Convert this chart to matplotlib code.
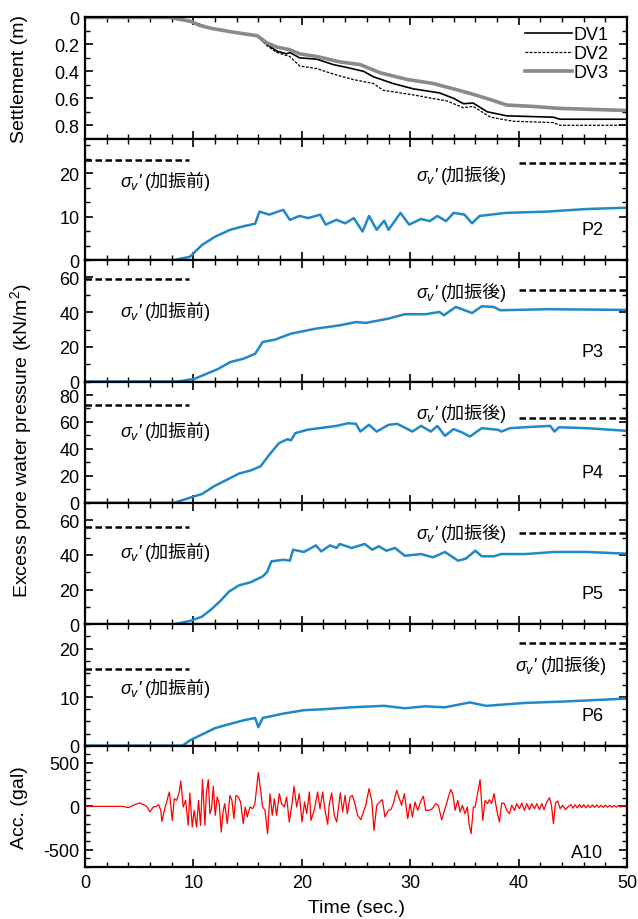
import numpy as np
import matplotlib.pyplot as plt
from matplotlib.ticker import MultipleLocator, AutoMinorLocator

plt.rcParams['font.family'] = ['Liberation Sans', 'Noto Sans CJK JP', 'DejaVu Sans']
plt.rcParams['mathtext.fontset'] = 'custom'
plt.rcParams['mathtext.rm'] = 'Liberation Sans'
plt.rcParams['mathtext.it'] = 'Liberation Sans:italic'
plt.rcParams.update({
    'font.size': 13,
    'axes.unicode_minus': False,
    'axes.linewidth': 1.6,
    'xtick.direction': 'in', 'ytick.direction': 'in',
    'xtick.top': True, 'ytick.right': True,
    'xtick.major.size': 6, 'ytick.major.size': 6,
    'xtick.minor.size': 3.5, 'ytick.minor.size': 3.5,
    'xtick.major.width': 1.2, 'ytick.major.width': 1.2,
    'xtick.minor.width': 1.0, 'ytick.minor.width': 1.0,
    'xtick.major.pad': 5, 'ytick.major.pad': 4,
})

# --- settlement (m) ---
t_dv1 = [0, 7.8, 9.8, 11.6, 13.7, 15.9, 16.8, 17.7, 18.6, 18.9, 19.8, 21.4, 22.9, 24.1,
         25.7, 26.6, 28.4, 30.3, 32.7, 34.0, 34.9, 35.8, 37.1, 38.9, 43.2, 43.8, 50]
dv1 = [0, 0, 0.03, 0.08, 0.11, 0.14, 0.2, 0.25, 0.27, 0.26, 0.30, 0.31, 0.35, 0.37,
       0.40, 0.44, 0.49, 0.53, 0.56, 0.60, 0.64, 0.635, 0.70, 0.73, 0.74, 0.755, 0.755]

t_dv2 = [0, 7.8, 9.8, 11.6, 13.7, 15.9, 16.8, 17.7, 18.9, 19.8, 21.4, 22.9, 24.7, 26.6,
         27.5, 30.3, 33.4, 34.9, 35.8, 37.4, 39.5, 43.2, 43.8, 50]
dv2 = [0, 0, 0.03, 0.08, 0.11, 0.14, 0.21, 0.26, 0.29, 0.36, 0.38, 0.42, 0.46, 0.49,
       0.54, 0.575, 0.62, 0.67, 0.66, 0.74, 0.77, 0.78, 0.80, 0.80]

t_dv3 = [0, 7.8, 9.8, 10.6, 11.6, 13.7, 15.9, 16.8, 17.7, 18.9, 19.8, 21.4, 23.5, 25.4,
         27.2, 29.7, 32.1, 34.0, 35.8, 37.4, 38.9, 41.3, 43.8, 50]
dv3 = [0, 0, 0.03, 0.06, 0.08, 0.11, 0.136, 0.19, 0.22, 0.24, 0.27, 0.29, 0.33, 0.35,
       0.41, 0.46, 0.49, 0.53, 0.57, 0.61, 0.65, 0.66, 0.675, 0.69]

# --- excess pore water pressure (kN/m2) ---
t_p2 = [0, 8.2, 9.7, 10.8, 12.0, 13.4, 14.6, 15.7, 16.1, 17.0, 17.8, 18.3, 18.9, 19.8,
        20.6, 21.7, 22.2, 23.2, 24.0, 24.8, 25.6, 26.2, 26.9, 27.6, 28.0, 29.1, 29.9,
        31.0, 31.8, 32.5, 33.3, 34.0, 35.0, 35.7, 36.4, 38.8, 42.6, 46.3, 50]
p2 = [0, 0, 0.8, 3.5, 5.4, 7.0, 7.8, 8.4, 11.2, 10.5, 11.2, 11.6, 9.3, 10.2,
      9.7, 10.5, 8.2, 9.3, 8.5, 9.7, 6.6, 10.2, 7.0, 9.1, 7.0, 10.9, 8.2,
      9.5, 9.0, 10.2, 9.0, 10.9, 10.5, 8.5, 10.2, 10.9, 11.2, 11.8, 12.1]

t_p3 = [0, 8.5, 10.1, 11.2, 12.3, 13.4, 14.6, 15.7, 16.4, 17.5, 19.0, 21.3, 23.5, 25.0,
        25.9, 28.0, 29.5, 31.4, 32.7, 33.1, 34.2, 35.7, 36.6, 37.7, 38.3, 42.6, 50]
p3 = [0, 0, 1.5, 4.4, 7.3, 11.2, 13.1, 16.0, 22.8, 24.1, 27.6, 30.5, 32.4, 34.3,
      33.8, 36.3, 38.8, 38.8, 40.1, 38.2, 43.0, 39.5, 43.4, 43.0, 41.1, 41.7, 41.3]

t_p4 = [0, 8.2, 10.1, 10.8, 11.9, 13.1, 14.2, 15.3, 16.2, 17.0, 17.9, 18.7, 19.0, 19.4,
        20.5, 21.6, 23.2, 24.3, 25.0, 25.4, 26.2, 26.9, 28.0, 28.8, 30.2, 31.0, 31.9,
        32.5, 33.2, 34.0, 34.8, 35.5, 36.6, 38.1, 38.4, 39.2, 40.6, 42.9, 43.3, 43.7,
        46.3, 50]
p4 = [0, 0, 4.9, 6.6, 12.3, 17.2, 21.7, 24.1, 27.1, 35.7, 44.3, 47.3, 46.3, 51.7,
      54.2, 55.4, 57.1, 59.1, 58.6, 52.9, 57.9, 52.9, 57.9, 58.6, 52.9, 57.1, 52.9,
      57.1, 49.7, 54.7, 52.2, 49.2, 55.4, 54.2, 52.9, 55.4, 56.1, 57.1, 52.9, 56.1,
      55.4, 53.4]

t_p5 = [0, 8.2, 9.7, 10.8, 11.6, 12.5, 13.3, 14.2, 15.3, 16.4, 16.8, 17.2, 18.3, 18.9,
        19.2, 20.2, 21.3, 21.8, 22.6, 23.2, 23.5, 24.6, 25.8, 26.5, 27.1, 27.8, 28.6,
        29.5, 31.0, 32.1, 33.2, 34.4, 35.1, 36.0, 36.6, 37.7, 38.4, 40.6, 43.3, 46.3, 50]
p5 = [0, 0, 1.9, 4.4, 8.3, 13.5, 18.9, 22.4, 24.3, 27.6, 30.1, 36.3, 37.2, 36.7,
      43.0, 41.7, 45.5, 42.0, 45.5, 44.0, 46.3, 44.0, 46.3, 43.0, 45.0, 42.4, 44.0,
      39.5, 40.5, 38.6, 41.7, 36.7, 37.8, 42.4, 39.2, 39.2, 40.5, 40.5, 41.7, 41.7, 40.7]

t_p6 = [0, 9.0, 9.7, 10.8, 12.0, 13.1, 14.6, 15.7, 16.0, 16.4, 18.3, 20.2, 22.0, 24.6,
        27.6, 29.5, 31.4, 33.2, 35.5, 37.0, 40.6, 44.3, 50]
p6 = [0, 0, 1.1, 2.3, 3.6, 4.3, 5.2, 5.7, 3.8, 5.7, 6.6, 7.3, 7.5, 7.9,
      8.2, 7.7, 8.1, 7.9, 8.9, 8.2, 8.8, 9.1, 9.7]

# effective vertical stress before / after shaking (kN/m2)
sig_before = [23.2, 59.0, 72.5, 56.0, 15.7]
sig_after = [22.3, 53.0, 63.0, 52.5, 21.2]

# --- acceleration A10 (gal) ---
t_acc = [0, 3.5, 4.0, 4.6, 5.07, 5.7, 6.0, 6.3, 6.6, 6.8, 7.0, 7.1, 7.4, 7.5, 7.7, 7.8,
         8.06, 8.24, 8.46, 8.7, 8.85, 9.07, 9.29, 9.53, 9.68, 9.9, 10.08, 10.3, 10.48,
         10.67, 10.85, 11.07, 11.2, 11.38, 11.53, 11.68, 11.84, 12.02, 12.2, 12.39,
         12.57, 12.76, 12.9, 13.13, 13.38, 13.56, 13.74, 13.93, 14.14, 14.36, 14.6,
         14.79, 14.97, 15.22, 15.47, 15.68, 15.99, 16.21, 16.39, 16.61, 16.85, 17.07,
         17.28, 17.47, 17.68, 17.93, 18.14, 18.39, 18.6, 18.85, 19.1, 19.28, 19.53,
         19.77, 20.02, 20.26, 20.45, 20.7, 20.85, 21.16, 21.46, 21.68, 21.93, 22.14,
         22.39, 22.54, 22.76, 23.0, 23.22, 23.37, 23.55, 23.77, 23.99, 24.2, 24.45,
         24.66, 24.9, 25.15, 25.46, 25.68, 25.9, 26.2, 26.45, 26.66, 26.91, 27.2,
         27.43, 27.67, 27.98, 28.22, 28.44, 28.75, 29.0, 29.21, 29.46, 29.77, 29.98,
         30.2, 30.44, 30.69, 31.0, 31.21, 31.43, 31.73, 32.04, 32.35, 32.59, 32.9,
         33.21, 33.52, 33.73, 33.92, 34.13, 34.38, 34.6, 34.81, 35.05, 35.27, 35.42,
         35.61, 35.82, 35.98, 36.2, 36.44, 36.69, 36.9, 37.12, 37.3, 37.5, 37.73,
         37.98, 38.22, 38.44, 38.68, 38.9, 39.15, 39.36, 39.61, 39.82, 40.07, 40.28,
         40.53, 40.74, 40.99, 41.2, 41.45, 41.67, 41.91, 42.13, 42.34, 42.59, 42.84,
         43.02, 43.2, 43.39, 43.6, 43.82, 44.06, 44.31, 44.59, 44.8, 45.0, 45.2, 45.4,
         45.6, 45.8, 46.0, 46.2, 46.4, 46.6, 46.8, 47.0, 47.2, 47.4, 47.6, 47.8, 48.0,
         48.2, 48.4, 48.6, 48.8, 49.0, 49.2, 49.4, 49.6, 49.8, 50.0]
acc = [0, 0, -15, 20, 40, 0, -65, -8, 0, 19, -46, -173, -8, 31, 127, 165,
       -162, 88, 69, 165, 292, -8, 69, -219, 154, -239, -46, -239, 69,
       -219, 308, -219, 146, 308, -85, -27, 231, -104, 108, 31,
       -296, -46, 31, -200, 127, 69, -142, 127, 108, 50, -200,
       -8, -123, -8, -27, 31, 389, 185, -8, -46, -316, 146,
       -104, 88, -104, 146, 31, -8, 108, -181, 31, 231, -8,
       146, -181, 50, -85, 165, -162, -38, 165, -27, 165, -46,
       -208, 31, 154, -104, -181, -27, 154, -65, 127, -85, 108,
       127, 31, -104, -154, -65, 12, 204, 69, -277, 12, 50,
       77, -123, -46, -38, 31, 185, 88, 12, 146, -142, 31,
       -123, 50, -46, 69, 116, -46, -46, -27, 31, 12, -154,
       -27, 108, 193, 146, -46, 69, -65, 12, -85, -8, -200,
       -316, -8, -8, 146, 308, -162, 69, 31, 77, 31, 146,
       -46, -181, 38, 31, -46, -85, 12, -46, 31, -27, 38,
       -46, 31, -38, 31, -27, 31, -38, 31, -38, 50, 100,
       12, -200, 38, 62, -27, 12, -38, 0, 20, -20, 18, -18,
       20, -15, 18, -18, 15, -15, 15, -12, 15, -12, 12, -12, 12,
       -10, 12, -10, 10, -10, 10, -8, 8, -5, 0]

p_series = [(t_p2, p2, 'P2'), (t_p3, p3, 'P3'), (t_p4, p4, 'P4'),
            (t_p5, p5, 'P5'), (t_p6, p6, 'P6')]
p_ylims = [28, 70, 90, 70, 25]
p_yticks = [[0, 10, 20], [0, 20, 40, 60], [0, 20, 40, 60, 80], [0, 20, 40, 60], [0, 10, 20]]
p_minor = [AutoMinorLocator(3), MultipleLocator(10), MultipleLocator(10),
           MultipleLocator(10), MultipleLocator(2.5)]
# label anchor heights (data units) and x of the "(" for the after-shaking label
lbl_before_y = [18.6, 42, 55, 42.6, 12.2]
lbl_after_y = [20.0, 53, 68, 53.5, 17.1]
lbl_after_x = [32.8, 32.8, 32.8, 32.8, 42.0]

blue = '#1f88c8'

fig, axes = plt.subplots(7, 1, sharex=True, figsize=(6.38, 9.2), dpi=100)
fig.subplots_adjust(left=0.133, right=0.983, top=0.980, bottom=0.0565, hspace=0)

ax = axes[0]
ax.plot(t_dv1, dv1, color='black', lw=1.2, label='DV1')
ax.plot(t_dv2, dv2, color='black', lw=0.9, ls=(0, (2.2, 1.2)), label='DV2')
ax.plot(t_dv3, dv3, color='#8a8a8a', lw=2.6, label='DV3')
ax.set_ylim(0.9, 0)
ax.set_yticks([0, 0.2, 0.4, 0.6, 0.8])
ax.set_yticklabels(['0', '0.2', '0.4', '0.6', '0.8'])
ax.yaxis.set_minor_locator(MultipleLocator(0.1))
ax.legend(loc='upper right', bbox_to_anchor=(0.965, 0.93), frameon=False,
          handlelength=2.6, handletextpad=0.05, labelspacing=0.12,
          borderaxespad=0, borderpad=0, fontsize=13)
ax.set_ylabel('Settlement (m)', fontsize=14)
ax.yaxis.set_label_coords(-0.105, 0.5)


def sigma_label(ax, x, y, tail):
    # sigma_v with an italic prime, then the Japanese note in parentheses
    ax.annotate(r"$\sigma_v$'", xy=(x, y), xytext=(-1, -5), textcoords='offset points',
                ha='right', va='baseline', fontsize=13, style='italic')
    ax.annotate(tail, xy=(x, y), xytext=(0, -5), textcoords='offset points',
                ha='left', va='baseline', fontsize=13)


for i, (tt, pp, name) in enumerate(p_series):
    ax = axes[i + 1]
    ax.plot(tt, pp, color=blue, lw=1.8)
    ax.hlines(sig_before[i], 0, 9.6, colors='black', lw=1.8, linestyles=(0, (2.6, 1.4)))
    ax.hlines(sig_after[i], 40, 50, colors='black', lw=1.8, linestyles=(0, (2.6, 1.4)))
    sigma_label(ax, 5.5, lbl_before_y[i], '(加振前)')
    sigma_label(ax, lbl_after_x[i], lbl_after_y[i], '(加振後)')
    ax.set_ylim(0, p_ylims[i])
    ax.set_yticks(p_yticks[i])
    ax.yaxis.set_minor_locator(p_minor[i])
    ax.text(0.956, 0.25, name, transform=ax.transAxes, ha='right', va='center', fontsize=13)

fig.text(0.033, 0.5207, 'Excess pore water pressure (kN/m$^2$)', rotation=90,
         ha='center', va='center', fontsize=14)

ax = axes[6]
ax.plot(t_acc, acc, color='red', lw=0.9)
ax.set_ylim(-700, 700)
ax.set_yticks([-500, 0, 500])
ax.yaxis.set_minor_locator(MultipleLocator(100))
ax.text(0.956, 0.12, 'A10', transform=ax.transAxes, ha='right', va='center', fontsize=13)
ax.set_ylabel('Acc. (gal)', fontsize=14)
ax.yaxis.set_label_coords(-0.105, 0.5)
ax.set_xlabel('Time (sec.)', fontsize=14, labelpad=6)

ax.set_xlim(0, 50)
ax.xaxis.set_major_locator(MultipleLocator(10))
ax.xaxis.set_minor_locator(MultipleLocator(2))

fig.savefig('out.png', dpi=100)
